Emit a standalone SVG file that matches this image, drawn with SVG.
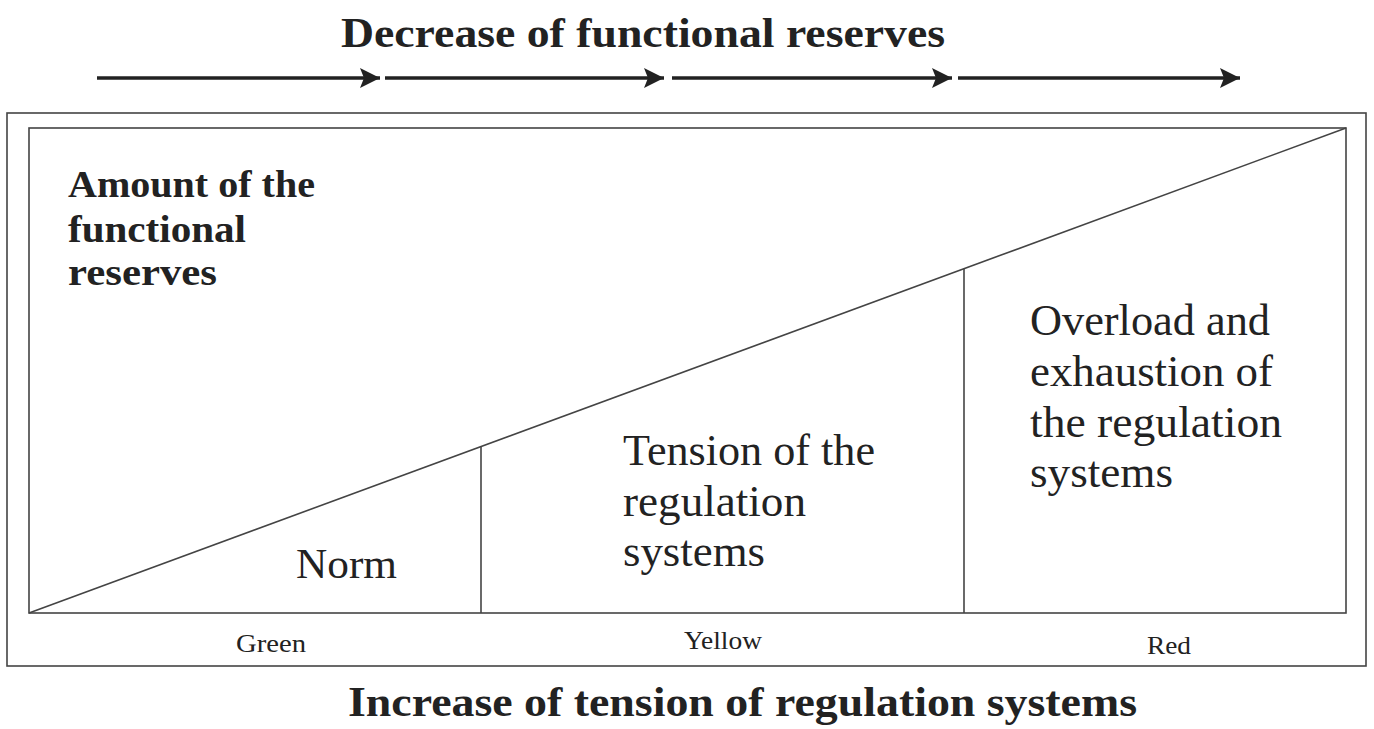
<svg xmlns="http://www.w3.org/2000/svg" width="1374" height="729" viewBox="0 0 1374 729">
<style>
.t{font-family:"Liberation Serif","DejaVu Serif",serif;fill:#222}
.b{font-weight:bold}
.ln{stroke:#444;stroke-width:1.6;fill:none}
.ar{stroke:#222;stroke-width:3.5;fill:none}
</style>
<defs>
<marker id="ah" markerWidth="22" markerHeight="22" refX="20" refY="10" orient="auto" markerUnits="userSpaceOnUse">
<path d="M0,0 L20,10 L0,20 L4,10 Z" fill="#222"/>
</marker>
</defs>
<rect width="1374" height="729" fill="#fff"/>
<text class="t b" x="341" y="47" font-size="43" textLength="604" lengthAdjust="spacingAndGlyphs">Decrease of functional reserves</text>
<g id="connectors">
<line class="ar" x1="97" y1="78" x2="380" y2="78" marker-end="url(#ah)"/>
<line class="ar" x1="385" y1="78" x2="664" y2="78" marker-end="url(#ah)"/>
<line class="ar" x1="672" y1="78" x2="952" y2="78" marker-end="url(#ah)"/>
<line class="ar" x1="958" y1="78" x2="1240" y2="78" marker-end="url(#ah)"/>
</g>
<g id="frame">
<rect class="ln" x="7" y="113" width="1359" height="553"/>
<rect class="ln" x="29" y="128" width="1317" height="485"/>
<line class="ln" x1="29" y1="613" x2="1346" y2="128"/>
<line class="ln" x1="481" y1="446.5" x2="481" y2="613"/>
<line class="ln" x1="964" y1="268.7" x2="964" y2="613"/>
</g>
<g id="amount">
<text class="t b" font-size="37"><tspan x="68" y="197" textLength="247" lengthAdjust="spacingAndGlyphs">Amount of the</tspan></text>
<text class="t b" font-size="37"><tspan x="68" y="242" textLength="178" lengthAdjust="spacingAndGlyphs">functional</tspan></text>
<text class="t b" font-size="37"><tspan x="68" y="285" textLength="149" lengthAdjust="spacingAndGlyphs">reserves</tspan></text>
</g>
<g id="norm">
<text class="t" font-size="43" x="296" y="578" textLength="101" lengthAdjust="spacingAndGlyphs">Norm</text>
</g>
<g id="tension">
<text class="t" font-size="44" x="623" y="465" textLength="252" lengthAdjust="spacingAndGlyphs">Tension of the</text>
<text class="t" font-size="44" x="623" y="516" textLength="183" lengthAdjust="spacingAndGlyphs">regulation</text>
<text class="t" font-size="44" x="623" y="566" textLength="142" lengthAdjust="spacingAndGlyphs">systems</text>
</g>
<g id="overload">
<text class="t" font-size="44" x="1030" y="335" textLength="240" lengthAdjust="spacingAndGlyphs">Overload and</text>
<text class="t" font-size="44" x="1030" y="386" textLength="243" lengthAdjust="spacingAndGlyphs">exhaustion of</text>
<text class="t" font-size="44" x="1030" y="437" textLength="252" lengthAdjust="spacingAndGlyphs">the regulation</text>
<text class="t" font-size="44" x="1030" y="487" textLength="143" lengthAdjust="spacingAndGlyphs">systems</text>
</g>
<g id="labels">
<text class="t" font-size="26" x="236" y="652" textLength="70" lengthAdjust="spacingAndGlyphs">Green</text>
<text class="t" font-size="26" x="684" y="649" textLength="78" lengthAdjust="spacingAndGlyphs">Yellow</text>
<text class="t" font-size="26" x="1147" y="654" textLength="44" lengthAdjust="spacingAndGlyphs">Red</text>
</g>
<text class="t b" x="348" y="716" font-size="42" textLength="789" lengthAdjust="spacingAndGlyphs">Increase of tension of regulation systems</text>
</svg>
